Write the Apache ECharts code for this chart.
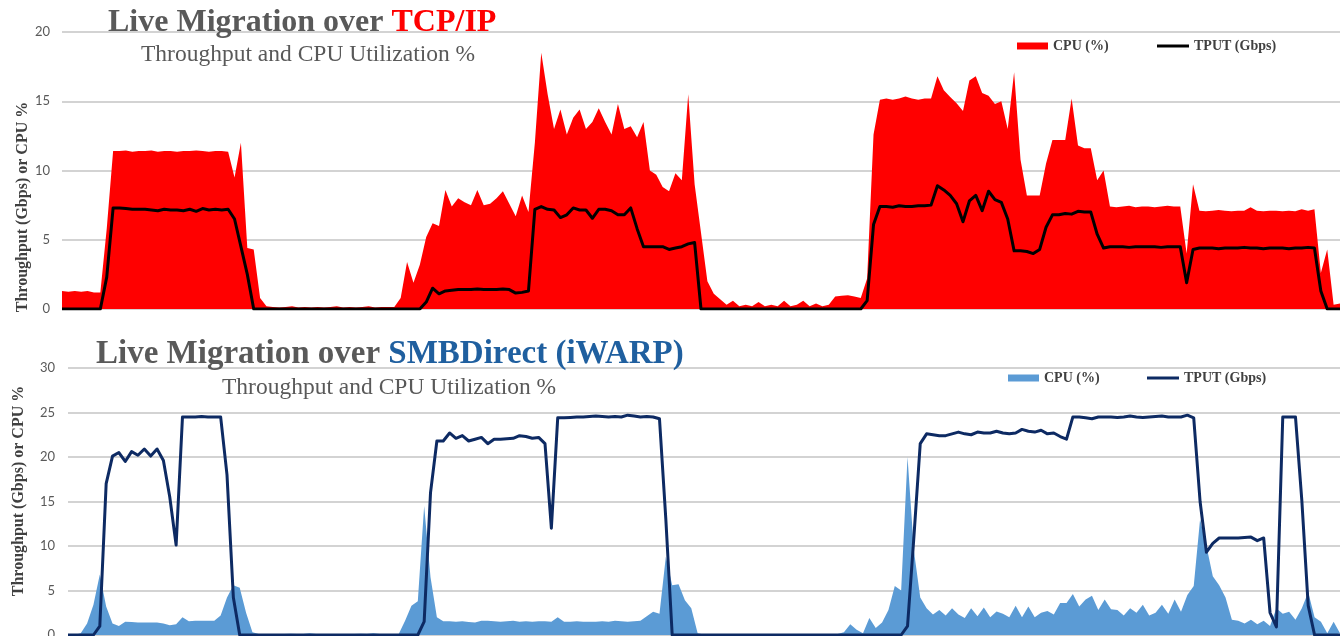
<!DOCTYPE html>
<html><head><meta charset="utf-8">
<script src="https://cdn.jsdelivr.net/npm/echarts@6/dist/echarts.min.js"></script>
<style>
html,body{margin:0;padding:0;background:#fff;}
#c1{position:absolute;left:0;top:0;width:1340px;height:330px;}
#c2{position:absolute;left:0;top:330px;width:1340px;height:306px;}
</style>
</head><body><div id="c1"></div><div id="c2"></div>
<script>
// sample index categories (201 samples across the run)
const samples = Array.from({length: 201}, (_, i) => i);

const yTicksTop = [0, 5, 10, 15, 20];
const yTicksBottom = [0, 5, 10, 15, 20, 25, 30];

// ---- TCP/IP ----
const tcpCpu = [
1.3,1.25,1.3,1.25,1.3,1.2,1.2,5.8,11.4,11.4,
11.45,11.35,11.4,11.4,11.45,11.35,11.4,11.4,11.35,11.4,
11.4,11.45,11.4,11.35,11.4,11.4,11.35,9.5,12.0,4.4,
4.3,0.8,0.2,0.15,0.1,0.15,0.2,0.1,0.15,0.1,
0.15,0.1,0.15,0.2,0.1,0.15,0.1,0.15,0.2,0.1,
0.15,0.15,0.15,0.8,3.4,1.9,3.2,5.2,6.2,6.0,
8.6,7.4,8.0,7.7,7.5,8.6,7.5,7.6,8.0,8.5,
7.6,6.7,8.2,7.0,12.0,18.5,15.5,13.0,14.4,12.6,
13.8,14.4,13.0,13.5,14.5,13.5,12.6,14.8,13.0,13.2,
12.4,13.5,10.0,9.7,8.8,8.5,9.8,9.3,15.5,9.0,
5.5,2.0,1.1,0.7,0.3,0.6,0.2,0.3,0.2,0.5,
0.2,0.3,0.2,0.6,0.2,0.3,0.6,0.2,0.4,0.2,
0.3,0.9,0.95,1.0,0.9,0.8,2.2,12.6,15.1,15.2,
15.1,15.2,15.35,15.2,15.1,15.2,15.2,16.8,15.8,15.3,
14.85,14.3,16.5,16.8,15.6,15.4,14.8,15.0,13.0,17.1,
10.8,8.2,8.2,8.2,10.5,12.2,12.2,12.2,15.2,11.8,
11.6,11.6,9.3,10.0,7.4,7.35,7.4,7.45,7.35,7.4,
7.4,7.35,7.4,7.45,7.4,7.4,4.0,9.0,7.1,7.05,
7.1,7.15,7.1,7.05,7.1,7.1,7.35,7.1,7.05,7.1,
7.1,7.05,7.1,7.05,7.2,7.1,7.2,2.6,4.3,0.3,
0.4];
const tcpTput = [
0,0,0,0,0,0,0,2.3,7.3,7.3,
7.25,7.2,7.2,7.2,7.15,7.1,7.2,7.15,7.15,7.1,
7.2,7.05,7.25,7.15,7.2,7.15,7.2,6.5,4.5,2.5,
0,0,0,0,0,0,0,0,0,0,
0,0,0,0,0,0,0,0,0,0,
0,0,0,0,0,0,0,0.5,1.5,1.1,
1.3,1.35,1.4,1.4,1.4,1.45,1.4,1.4,1.4,1.45,
1.4,1.15,1.2,1.3,7.2,7.4,7.2,7.15,6.6,6.8,
7.3,7.15,7.15,6.55,7.2,7.2,7.1,6.8,6.8,7.3,
5.8,4.5,4.5,4.5,4.5,4.3,4.4,4.5,4.7,4.8,
0,0,0,0,0,0,0,0,0,0,
0,0,0,0,0,0,0,0,0,0,
0,0,0,0,0,0,0.6,6.1,7.4,7.4,
7.35,7.45,7.4,7.4,7.45,7.45,7.5,8.9,8.6,8.2,
7.6,6.3,7.8,8.2,7.1,8.5,7.9,7.7,6.5,4.2,
4.2,4.15,4.0,4.3,5.9,6.8,6.8,6.9,6.85,7.05,
7.0,7.0,5.4,4.4,4.5,4.5,4.5,4.45,4.5,4.5,
4.5,4.5,4.45,4.5,4.5,4.5,1.9,4.3,4.4,4.4,
4.4,4.35,4.4,4.4,4.4,4.45,4.4,4.4,4.35,4.4,
4.4,4.4,4.35,4.4,4.4,4.45,4.4,1.3,0,0,
0];

// ---- SMBDirect (iWARP) ----
const smbCpu = [
0,0,0.2,1.3,3.4,6.8,3.2,1.3,1.0,1.5,
1.45,1.4,1.4,1.4,1.4,1.3,1.1,1.2,2.0,1.55,
1.6,1.6,1.6,1.6,2.2,4.2,5.6,5.3,2.5,0.3,
0.1,0.1,0.1,0.1,0.1,0.15,0.1,0.1,0.2,0.1,
0.1,0.1,0.1,0.1,0.1,0.1,0.15,0.1,0.2,0.1,
0.1,0.1,0.1,1.6,3.3,3.8,14.5,6.5,2.0,1.55,
1.55,1.5,1.55,1.45,1.4,1.6,1.6,1.55,1.5,1.55,
1.6,1.5,1.55,1.5,1.55,1.55,1.5,2.0,1.5,1.5,
1.55,1.5,1.5,1.5,1.55,1.5,1.6,1.55,1.5,1.55,
1.6,2.1,2.6,2.4,8.8,5.6,5.7,3.9,3.0,0.2,
0.05,0.05,0.05,0.05,0.05,0.1,0.05,0.05,0.05,0.05,
0.05,0.05,0.05,0.05,0.05,0.05,0.05,0.05,0.05,0.05,
0.05,0.1,0.3,1.2,0.6,0.2,1.9,0.8,1.4,2.8,
5.5,5.0,20.0,9.5,4.2,3.0,2.3,2.8,2.2,3.0,
2.3,1.9,3.0,2.1,3.1,2.0,2.65,2.4,2.0,3.3,
2.0,3.2,2.0,2.5,2.7,2.3,3.6,3.6,4.6,3.2,
4.0,4.4,2.8,4.0,2.9,2.8,2.2,3.0,2.5,3.4,
2.2,2.5,3.4,2.4,4.0,2.6,4.5,5.5,13.0,10.0,
6.6,5.6,4.2,1.7,1.6,1.3,1.7,1.2,1.6,1.0,
3.0,2.4,2.6,1.7,3.0,4.8,2.0,1.5,0.2,1.5,
0.2];
const smbTput = [
0,0,0,0,0,1.0,17.0,20.1,20.5,19.5,
20.6,20.2,20.9,20.1,20.9,19.6,15.5,10.1,24.5,24.5,
24.5,24.55,24.5,24.5,24.5,18.0,4.2,0,0,0,
0,0,0,0,0,0,0,0,0,0,
0,0,0,0,0,0,0,0,0,0,
0,0,0,0,0,0,1.5,16.0,21.8,21.8,
22.7,22.1,22.4,21.8,22.0,22.2,21.5,22.0,22.0,22.05,
22.1,22.4,22.3,22.1,22.2,21.5,12.0,24.4,24.4,24.45,
24.5,24.5,24.55,24.6,24.55,24.5,24.55,24.5,24.7,24.6,
24.5,24.55,24.5,24.3,13.0,0,0,0,0,0,
0,0,0,0,0,0,0,0,0,0,
0,0,0,0,0,0,0,0,0,0,
0,0,0,0,0,0,0,0,0,0,
0,0,1.0,11.0,21.5,22.6,22.5,22.4,22.4,22.6,
22.8,22.6,22.5,22.8,22.7,22.7,22.9,22.7,22.6,22.7,
23.1,22.9,22.8,23.0,22.6,22.7,22.3,22.0,24.5,24.5,
24.4,24.3,24.5,24.5,24.5,24.45,24.5,24.6,24.5,24.45,
24.5,24.55,24.6,24.5,24.5,24.5,24.7,24.4,15.0,9.3,
10.3,10.9,10.9,10.9,10.9,10.95,11.0,10.6,10.9,2.5,
0.9,24.5,24.5,24.5,15.1,3.3,0,0,0,0,
0];

const serif = '"Liberation Serif", "DejaVu Serif", serif';

function makeOption(c) {
  return {
    animation: false,
    backgroundColor: '#fff',
    title: {
      text: '{a|Live Migration over }{b|' + c.hl + '}',
      left: c.titleLeft, top: c.titleTop, padding: 0,
      textStyle: { rich: {
        a: { fontFamily: serif, fontWeight: 'bold', fontSize: c.titleSize, color: '#595959', lineHeight: 36 },
        b: { fontFamily: serif, fontWeight: 'bold', fontSize: c.titleSize, color: c.hlColor, lineHeight: 36 }
      } }
    },
    graphic: [
      { type: 'text', silent: true, x: c.subX, y: c.subY,
        style: { text: 'Throughput and CPU Utilization %', font: '23.5px ' + serif, fill: '#595959',
                 verticalAlign: 'middle', textVerticalAlign: 'middle' } },
      { type: 'text', silent: true, x: c.nameX, y: c.nameY, rotation: Math.PI / 2,
        style: { text: 'Throughput (Gbps) or CPU %', font: 'bold 16px ' + serif, fill: '#404040',
                 align: 'center', textAlign: 'center', verticalAlign: 'middle', textVerticalAlign: 'middle' } }
    ],
    legend: [
      { data: [{ name: 'CPU (%)', icon: 'rect', itemStyle: { color: c.cpuColor } }],
        left: c.leg1X, top: c.legY, padding: 0, itemWidth: 31, itemHeight: 7, selectedMode: false,
        textStyle: { fontFamily: serif, fontWeight: 'bold', fontSize: 14, color: '#404040', lineHeight: 16 } },
      { data: [{ name: 'TPUT (Gbps)', icon: 'rect', itemStyle: { color: c.tputColor } }],
        left: c.leg2X, top: c.legY, padding: 0, itemWidth: 32, itemHeight: 3, selectedMode: false,
        textStyle: { fontFamily: serif, fontWeight: 'bold', fontSize: 14, color: '#404040', lineHeight: 16 } }
    ],
    grid: { left: c.gridLeft, right: 0, top: c.gridTop, height: c.gridHeight,
            containLabel: false, outerBoundsMode: 'none' },
    xAxis: { type: 'category', data: samples, boundaryGap: false, show: false },
    yAxis: {
      type: 'value', min: 0, max: c.ticks[c.ticks.length - 1], interval: 5,
      axisLine: { show: false }, axisTick: { show: false },
      axisLabel: { margin: c.labelMargin, color: '#595959', fontFamily: 'Lato, "Open Sans", sans-serif', fontSize: 13 },
      splitLine: { lineStyle: { color: '#c4c4c4', width: 1.5 } }
    },
    series: [
      { name: 'CPU (%)', type: 'line', data: c.cpu, symbol: 'none', silent: true,
        lineStyle: { width: 0 }, itemStyle: { color: c.cpuColor },
        areaStyle: { color: c.cpuColor, opacity: 1 }, z: 1 },
      { name: 'TPUT (Gbps)', type: 'line', data: c.tput, symbol: 'none', silent: true,
        lineStyle: { width: 3, color: c.tputColor, join: 'round' }, itemStyle: { color: c.tputColor }, z: 2 }
    ]
  };
}

const ch1 = echarts.init(document.getElementById('c1'));
ch1.setOption(makeOption({
  hl: 'TCP/IP', hlColor: '#ff0000', titleLeft: 108, titleTop: 5, titleSize: 32,
  subX: 141, subY: 55, nameX: 23, nameY: 207,
  leg1X: 1017, leg2X: 1157, legY: 38,
  gridLeft: 62, gridTop: 32, gridHeight: 277, labelMargin: 12,
  ticks: yTicksTop, cpu: tcpCpu, tput: tcpTput, cpuColor: '#ff0000', tputColor: '#000000'
}));

const ch2 = echarts.init(document.getElementById('c2'));
ch2.setOption(makeOption({
  hl: 'SMBDirect (iWARP)', hlColor: '#1f5f9f', titleLeft: 96, titleTop: 6, titleSize: 33,
  subX: 222, subY: 58, nameX: 19, nameY: 161,
  leg1X: 1008, leg2X: 1147, legY: 40,
  gridLeft: 68, gridTop: 38, gridHeight: 267, labelMargin: 13,
  ticks: yTicksBottom, cpu: smbCpu, tput: smbTput, cpuColor: '#5b9bd5', tputColor: '#0d2a63'
}));
</script></body></html>
